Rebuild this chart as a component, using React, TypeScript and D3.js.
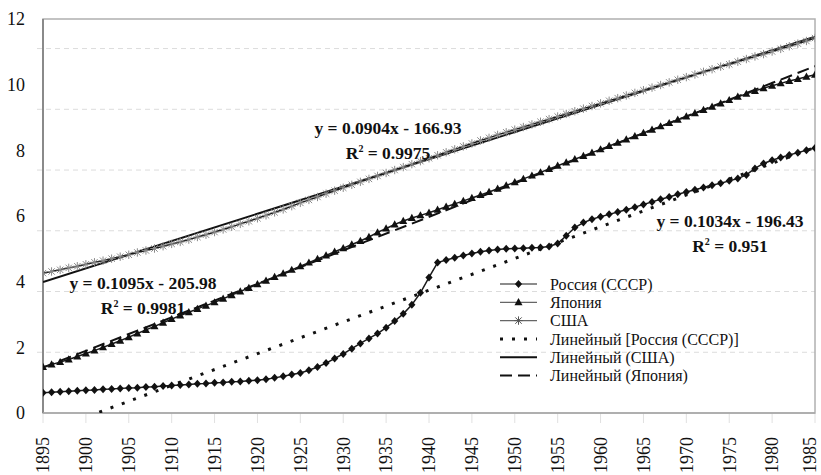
import React, { useEffect, useRef } from 'react';
import * as d3 from 'd3';

// annual values, first year 1895
const startYear = 1895;

const russia = [
  0.62, 0.63, 0.65, 0.66, 0.68, 0.69, 0.70, 0.72, 0.73, 0.75,
  0.76, 0.77, 0.79, 0.80, 0.82, 0.84, 0.85, 0.87, 0.89, 0.90,
  0.92, 0.93, 0.95, 0.96, 0.98, 1.00, 1.03, 1.07, 1.12, 1.17,
  1.22, 1.30, 1.40, 1.52, 1.66, 1.80, 1.96, 2.12, 2.27, 2.42,
  2.60, 2.80, 3.02, 3.30, 3.66, 4.13, 4.58, 4.66, 4.73, 4.80,
  4.86, 4.91, 4.95, 4.98, 5.00, 5.01, 5.02, 5.03, 5.04, 5.07,
  5.16, 5.40, 5.65, 5.80, 5.90, 5.98, 6.05, 6.12, 6.19, 6.27,
  6.35, 6.43, 6.51, 6.58, 6.66, 6.73, 6.80, 6.87, 6.94, 7.00,
  7.07, 7.14, 7.25, 7.45, 7.60, 7.70, 7.78, 7.86, 7.93, 8.00,
  8.07,
];

const japan = [
  1.40, 1.48, 1.55, 1.63, 1.72, 1.81, 1.90, 2.00, 2.10, 2.20,
  2.31, 2.42, 2.53, 2.64, 2.75, 2.86, 2.97, 3.07, 3.17, 3.27,
  3.37, 3.48, 3.59, 3.70, 3.81, 3.92, 4.03, 4.14, 4.25, 4.36,
  4.47, 4.58, 4.69, 4.80, 4.91, 5.02, 5.13, 5.24, 5.36, 5.50,
  5.62, 5.74, 5.85, 5.94, 6.02, 6.10, 6.19, 6.28, 6.37, 6.46,
  6.55, 6.64, 6.73, 6.83, 6.93, 7.03, 7.13, 7.23, 7.33, 7.43,
  7.53, 7.63, 7.73, 7.83, 7.93, 8.03, 8.13, 8.23, 8.33, 8.43,
  8.53, 8.63, 8.73, 8.83, 8.93, 9.03, 9.13, 9.23, 9.33, 9.43,
  9.53, 9.63, 9.72, 9.81, 9.89, 9.97, 10.04, 10.11, 10.17, 10.24,
  10.30,
];

const usa = [
  4.26, 4.31, 4.36, 4.42, 4.47, 4.53, 4.59, 4.64, 4.70, 4.76,
  4.82, 4.89, 4.95, 5.01, 5.08, 5.15, 5.21, 5.28, 5.36, 5.43,
  5.51, 5.59, 5.67, 5.76, 5.84, 5.93, 6.02, 6.11, 6.20, 6.30,
  6.40, 6.49, 6.58, 6.68, 6.77, 6.86, 6.95, 7.04, 7.13, 7.22,
  7.31, 7.40, 7.49, 7.58, 7.67, 7.76, 7.85, 7.94, 8.03, 8.12,
  8.21, 8.30, 8.38, 8.47, 8.55, 8.63, 8.71, 8.79, 8.87, 8.95,
  9.03, 9.11, 9.19, 9.27, 9.35, 9.43, 9.51, 9.59, 9.67, 9.75,
  9.83, 9.91, 9.99, 10.07, 10.15, 10.23, 10.31, 10.39, 10.47, 10.55,
  10.62, 10.70, 10.78, 10.86, 10.93, 11.01, 11.09, 11.17, 11.25, 11.33,
  11.42,
];

const xTicks = [1895, 1900, 1905, 1910, 1915, 1920, 1925, 1930, 1935, 1940,
  1945, 1950, 1955, 1960, 1965, 1970, 1975, 1980, 1985];
const yTicks = [0, 2, 4, 6, 8, 10, 12];
// faint dashed lines that show through in the picture
const gridValues = [1.85, 3.7, 5.55, 7.4, 9.25, 11.1];

const legendLabels = [
  'Россия (СССР)',
  'Япония',
  'США',
  'Линейный [Россия (СССР)]',
  'Линейный (США)',
  'Линейный (Япония)',
];

const equations = [
  { line: 'y = 0.0904x - 166.93', r2: '0.9975' }, // США
  { line: 'y = 0.1095x - 205.98', r2: '0.9981' }, // Япония
  { line: 'y = 0.1034x - 196.43', r2: '0.951' },  // Россия
];
const equationPos = [[388, 128], [143, 283], [730, 221]];

const W = 821, H = 475;
const margin = { top: 19, right: 6, bottom: 62, left: 43 };
const FONT = "'Liberation Serif', 'DejaVu Serif', 'Times New Roman', serif";

const diamond = 'M0,-4L3.6,0L0,4L-3.6,0Z';
const triangle = 'M0,-4.2L4,3L-4,3Z';
const star = 'M-3.2,-3.2L3.2,3.2M-3.2,3.2L3.2,-3.2M0,-4.2L0,4.2M-4.2,0L4.2,0';

function fit(values: number[]) {
  const xs = values.map((_, i) => startYear + i);
  const mx = d3.mean(xs)!, my = d3.mean(values)!;
  let sxy = 0, sxx = 0;
  xs.forEach((x, i) => { sxy += (x - mx) * (values[i] - my); sxx += (x - mx) * (x - mx); });
  const b = sxy / sxx;
  return (x: number) => my + b * (x - mx);
}

const App = () => {
  const ref = useRef<SVGSVGElement>(null);

  useEffect(() => {
    const svg = d3.select(ref.current);
    svg.selectAll('*').remove();

    const x = d3.scaleLinear().domain([1895, 1985]).range([margin.left, W - margin.right]);
    const y = d3.scaleLinear().domain([0, 12]).range([H - margin.bottom, margin.top]);
    const x0 = x.range()[0], x1 = x.range()[1];
    const y0 = y.range()[0], y1 = y.range()[1];

    svg.append('defs').append('clipPath').attr('id', 'plot')
      .append('rect').attr('x', x0).attr('y', y1).attr('width', x1 - x0).attr('height', y0 - y1);

    // faint grid
    svg.append('g').selectAll('line').data(gridValues).enter().append('line')
      .attr('x1', x0 - 6).attr('x2', x1)
      .attr('y1', d => y(d)).attr('y2', d => y(d))
      .attr('stroke', '#dcdcdc').attr('stroke-width', 1).attr('stroke-dasharray', '5,4');

    // x ticks
    svg.append('g').selectAll('line').data(xTicks).enter().append('line')
      .attr('x1', d => x(d)).attr('x2', d => x(d))
      .attr('y1', y0).attr('y2', y0 + 10)
      .attr('stroke', '#e0e0e0').attr('stroke-width', 1);

    // frame
    svg.append('rect').attr('x', x0).attr('y', y1).attr('width', x1 - x0).attr('height', y0 - y1)
      .attr('fill', 'none').attr('stroke', '#b0b0b0').attr('stroke-width', 1.5);
    svg.append('line').attr('x1', x0).attr('x2', x0).attr('y1', y1).attr('y2', y0)
      .attr('stroke', '#8a8a8a').attr('stroke-width', 2);
    svg.append('line').attr('x1', x0).attr('x2', x1).attr('y1', y0).attr('y2', y0)
      .attr('stroke', '#a8a8a8').attr('stroke-width', 1.5);

    // y labels
    svg.append('g').selectAll('text').data(yTicks).enter().append('text')
      .attr('x', 25).attr('y', d => y(d)).attr('dy', '0.35em')
      .attr('text-anchor', 'end').style('font-family', FONT).style('font-size', '18px')
      .attr('fill', '#111').text(d => d);

    // x labels
    svg.append('g').selectAll('text').data(xTicks).enter().append('text')
      .attr('transform', d => `translate(${Math.min(x(d), W - 11)},${y0 + 24}) rotate(-90)`)
      .attr('dy', '0.35em').attr('text-anchor', 'end')
      .style('font-family', FONT).style('font-size', '18px').attr('fill', '#111').text(d => d);

    const plot = svg.append('g').attr('clip-path', 'url(#plot)');

    const line = d3.line<number>().x((_, i) => x(startYear + i)).y(d => y(d));

    // trend lines
    const trendStyles = [
      { data: russia, width: 3, dash: '3,9' },
      { data: usa, width: 2, dash: null },
      { data: japan, width: 2, dash: '12,6' },
    ];
    trendStyles.forEach(t => {
      const f = fit(t.data);
      plot.append('line')
        .attr('x1', x(1895)).attr('y1', y(f(1895)))
        .attr('x2', x(1985)).attr('y2', y(f(1985)))
        .attr('stroke', '#111').attr('stroke-width', t.width)
        .attr('stroke-dasharray', t.dash);
    });

    // series
    const series = [
      { data: usa, marker: star, fill: 'none', mstroke: '#8a8a8a' },
      { data: japan, marker: triangle, fill: '#111', mstroke: 'none' },
      { data: russia, marker: diamond, fill: '#111', mstroke: 'none' },
    ];
    series.forEach(s => {
      plot.append('path').datum(s.data).attr('d', line)
        .attr('fill', 'none').attr('stroke', '#1a1a1a').attr('stroke-width', 1.5);
      plot.append('g').selectAll('path').data(s.data).enter().append('path')
        .attr('transform', (d, i) => `translate(${x(startYear + i)},${y(d)})`)
        .attr('d', s.marker).attr('fill', s.fill)
        .attr('stroke', s.mstroke).attr('stroke-width', 1);
    });

    // equations
    equations.forEach((e, i) => {
      const [cx, cy] = equationPos[i];
      const g = svg.append('g').style('font-family', FONT).style('font-weight', 'bold')
        .style('font-size', '17.5px').attr('fill', '#111').attr('text-anchor', 'middle');
      g.append('text').attr('x', cx).attr('y', cy).attr('dy', '0.35em').text(e.line);
      const t = g.append('text').attr('x', cx).attr('y', cy + 25).attr('dy', '0.35em');
      t.append('tspan').text('R');
      t.append('tspan').style('font-size', '10px').attr('dy', -7).text('2');
      t.append('tspan').attr('dy', 7).text(` = ${e.r2}`);
    });

    // legend
    const lg = svg.append('g');
    const lx0 = 500, lx1 = 537, ltx = 550, ly = 284, step = 18.3;
    const legendMarks = [diamond, triangle, star];
    legendLabels.forEach((label, i) => {
      const cy = ly + i * step;
      if (i < 3) {
        lg.append('line').attr('x1', lx0).attr('x2', lx1).attr('y1', cy).attr('y2', cy)
          .attr('stroke', '#666').attr('stroke-width', 1.3);
        lg.append('path').attr('transform', `translate(${(lx0 + lx1) / 2},${cy})`)
          .attr('d', legendMarks[i])
          .attr('fill', i === 2 ? 'none' : '#111')
          .attr('stroke', i === 2 ? '#555' : 'none');
      } else {
        const st = trendStyles[i - 3];
        lg.append('line').attr('x1', lx0).attr('x2', lx1).attr('y1', cy).attr('y2', cy)
          .attr('stroke', '#111').attr('stroke-width', st.width)
          .attr('stroke-dasharray', st.dash);
      }
      lg.append('text').attr('x', ltx).attr('y', cy).attr('dy', '0.35em')
        .style('font-family', FONT).style('font-size', '16px').attr('fill', '#111').text(label);
    });
  }, []);

  return (
    <svg ref={ref} width={W} height={H}
      style={{ position: 'absolute', left: 0, top: 0, background: '#fff' }} />
  );
};

export default App;
